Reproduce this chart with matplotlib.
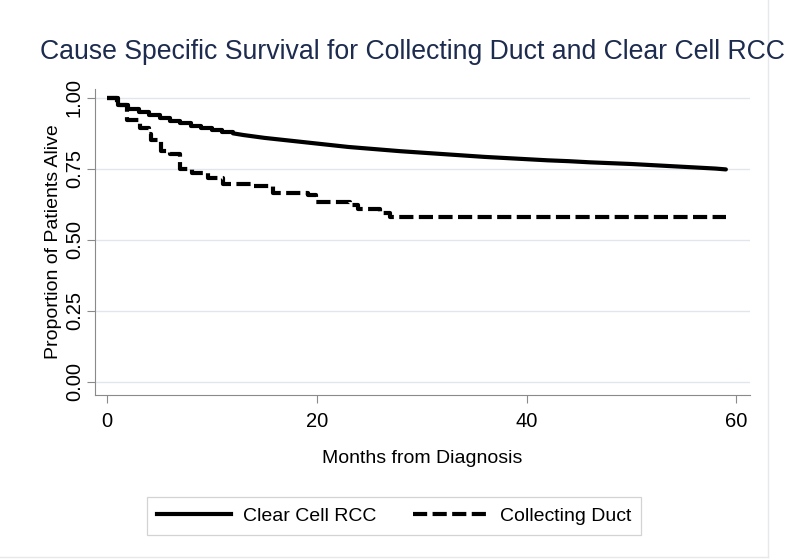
import matplotlib
matplotlib.use("Agg")
import matplotlib.pyplot as plt
from matplotlib.lines import Line2D

plt.rcParams['font.family'] = ['Liberation Sans', 'DejaVu Sans']

# Clear Cell RCC (Kaplan-Meier estimate)
cc_months = [0, 1, 2, 3, 4, 5, 6, 7, 8, 9, 10, 11, 12, 13, 14, 15, 16, 17, 18, 19,
             20, 21, 22, 23, 24, 26, 28, 30, 32, 34, 36, 38, 40, 42, 44, 46, 48,
             50, 52, 54, 56, 58, 59]
cc_surv = [1.000, 0.975, 0.962, 0.951, 0.941, 0.930, 0.920, 0.910, 0.902, 0.895,
           0.888, 0.881, 0.875, 0.869, 0.864, 0.859, 0.855, 0.851, 0.847, 0.843,
           0.839, 0.835, 0.831, 0.827, 0.824, 0.818, 0.812, 0.807, 0.802, 0.797,
           0.792, 0.788, 0.784, 0.780, 0.777, 0.773, 0.770, 0.767, 0.763, 0.759,
           0.755, 0.751, 0.748]

# Collecting Duct
cd_months = [0, 0.9, 1.9, 3.1, 4.0, 4.2, 5.1, 6.0, 7.0, 8.1, 9.6, 11.1, 13.9, 15.8,
             19.2, 19.9, 23.2, 23.9, 26.0, 27.0, 59]
cd_surv = [1.000, 0.974, 0.922, 0.893, 0.872, 0.851, 0.812, 0.801, 0.748, 0.735,
           0.718, 0.697, 0.690, 0.664, 0.658, 0.632, 0.623, 0.608, 0.596, 0.580,
           0.580]

series_labels = ["Clear Cell RCC", "Collecting Duct"]
x_ticks = [0, 20, 40, 60]
y_ticks = [0.00, 0.25, 0.50, 0.75, 1.00]
y_ticklabels = ["0.00", "0.25", "0.50", "0.75", "1.00"]

title_color = "#1c2b4e"
axis_gray = "#8a8a8a"
LW = 3.0
DASH = (3.4, 1.3)

fig = plt.figure(figsize=(8, 5.6), dpi=100)
ax = fig.add_axes([95/800, 1 - 395/560, (750 - 95)/800, (395 - 89)/560])

# Clear cell: early months show distinct steps; later, dense small steps look like a line
k = cc_months.index(12)
ax.step(cc_months[:k + 1], cc_surv[:k + 1], where='post', color='black', lw=LW,
        solid_capstyle='butt', zorder=3)
ax.plot(cc_months[k:], cc_surv[k:], color='black', lw=LW,
        solid_capstyle='round', zorder=3)
ax.step(cd_months, cd_surv, where='post', color='black', lw=LW,
        dashes=DASH, dash_capstyle='butt', zorder=3)

ax.set_xlim(-1.15, 61.3)
ax.set_ylim(-0.046, 1.031)
ax.set_xticks(x_ticks)
ax.set_yticks(y_ticks)
ax.set_yticklabels(y_ticklabels, rotation=90, va='center')
ax.tick_params(axis='both', labelsize=14.5, color=axis_gray, length=6, width=0.8,
               direction='out')
ax.tick_params(axis='x', pad=6)
ax.tick_params(axis='y', pad=2)

ax.grid(axis='y', color='#e2e6ec', lw=1.0, zorder=0)
ax.set_axisbelow(True)
for s in ['top', 'right']:
    ax.spines[s].set_visible(False)
for s in ['left', 'bottom']:
    ax.spines[s].set_color(axis_gray)
    ax.spines[s].set_linewidth(0.8)

ax.set_xlabel("Months from Diagnosis", fontsize=14, labelpad=14)
ax.set_ylabel("Proportion of Patients Alive", fontsize=14, labelpad=2)

fig.text(40/800, 1 - 52/560, "Cause Specific Survival for Collecting Duct and Clear Cell RCC",
         fontsize=19.2, color=title_color, va='center', ha='left')

handles = [Line2D([], [], color='black', lw=LW),
           Line2D([], [], color='black', lw=LW, dashes=DASH)]
leg = fig.legend(handles, series_labels, loc='center', ncol=2,
                 bbox_to_anchor=(394/800, 1 - 516/560), frameon=True, fancybox=False,
                 fontsize=14, handlelength=3.8, handletextpad=0.65, columnspacing=1.9,
                 borderpad=0.5, borderaxespad=0)
leg.get_frame().set_edgecolor('#c8c8c8')
leg.get_frame().set_linewidth(0.9)

# outer graph-region border
fig.add_artist(Line2D([768/800, 768/800], [1 - 557/560, 1], transform=fig.transFigure,
                      color='#e6e8ec', lw=1.0))
fig.add_artist(Line2D([0, 768/800], [1 - 557/560, 1 - 557/560], transform=fig.transFigure,
                      color='#e6e8ec', lw=1.0))

fig.savefig("out.png", dpi=100)
